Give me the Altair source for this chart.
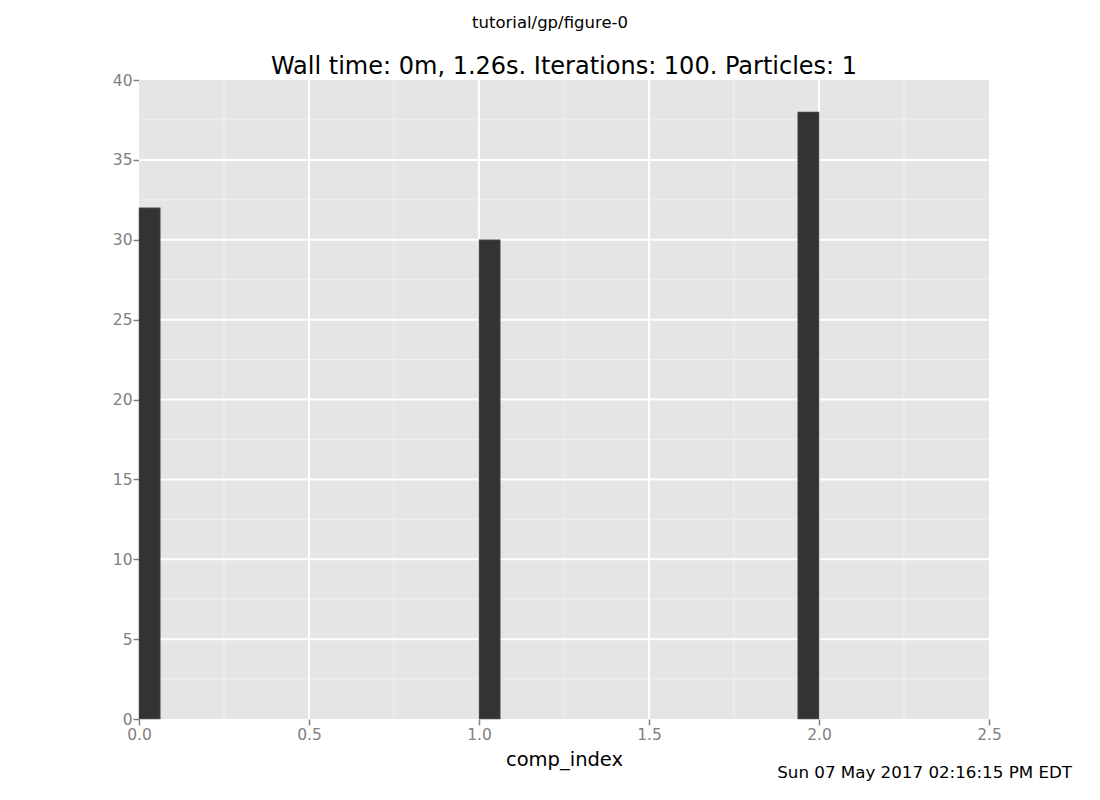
import altair as alt
import pandas as pd

# histogram bins (comp_index) and counts
bin_start = [0.0, 1.0, 1.9375]
bin_end = [0.0625, 1.0625, 2.0]
counts = [32, 30, 38]

x_major = [0.5, 1.0, 1.5, 2.0]
x_minor = [0.25, 0.75, 1.25, 1.75, 2.25]
y_major = [5, 10, 15, 20, 25, 30, 35]
y_minor = [2.5, 7.5, 12.5, 17.5, 22.5, 27.5, 32.5, 37.5]
x_ticks = [0, 0.5, 1.0, 1.5, 2.0, 2.5]
y_ticks = [0, 5, 10, 15, 20, 25, 30, 35, 40]

FONT = "DejaVu Sans"
W, H = 850, 639

bars = pd.DataFrame({"start": bin_start, "end": bin_end, "count": counts})

xs = alt.Scale(domain=[0, 2.5], nice=False, zero=False)
ys = alt.Scale(domain=[0, 40], nice=False)

axis_common = dict(
    grid=False, domain=False, labelFont=FONT, labelFontSize=15.5, labelFlush=False,
    labelColor="#808080", tickColor="#808080", tickSize=6, tickWidth=1.5,
)
XAX = alt.Axis(title="comp_index", values=x_ticks, format=".1f",
               titleFont=FONT, titleFontSize=19.5, titleFontWeight="normal",
               titleColor="black", titlePadding=8, labelPadding=2, **axis_common)
YAX = alt.Axis(title=None, values=y_ticks, labelPadding=1, **axis_common)

bg = alt.Chart(pd.DataFrame({"a": [0]})).mark_rect(color="#E5E5E5").encode(
    x=alt.value(0), x2=alt.value(W), y=alt.value(0), y2=alt.value(H)
)

gx_minor = alt.Chart(pd.DataFrame({"v": x_minor})).mark_rule(color="#F0F0F0", strokeWidth=1).encode(
    x=alt.X("v:Q", scale=xs, axis=XAX)
)
gy_minor = alt.Chart(pd.DataFrame({"v": y_minor})).mark_rule(color="#F0F0F0", strokeWidth=1).encode(
    y=alt.Y("v:Q", scale=ys, axis=YAX)
)
gx_major = alt.Chart(pd.DataFrame({"v": x_major})).mark_rule(color="white", strokeWidth=2).encode(
    x=alt.X("v:Q", scale=xs, axis=XAX)
)
gy_major = alt.Chart(pd.DataFrame({"v": y_major})).mark_rule(color="white", strokeWidth=2).encode(
    y=alt.Y("v:Q", scale=ys, axis=YAX)
)

bar_layer = alt.Chart(bars).mark_rect(color="#333333", stroke="#666666", strokeWidth=0.6).encode(
    x=alt.X("start:Q", scale=xs, axis=XAX),
    x2="end:Q",
    y=alt.Y("count:Q", scale=ys, axis=YAX),
    y2=alt.datum(0),
)

t = pd.DataFrame({"a": [0]})
top_text = alt.Chart(t).mark_text(font=FONT, fontSize=16.5, color="black", align="center",
                                  baseline="alphabetic").encode(
    x=alt.value(W / 2 - 14), y=alt.value(-52), text=alt.value("tutorial/gp/figure-0"))
main_title = alt.Chart(t).mark_text(font=FONT, fontSize=24, color="black", align="center",
                                    baseline="alphabetic").encode(
    x=alt.value(W / 2), y=alt.value(-6),
    text=alt.value("Wall time: 0m, 1.26s. Iterations: 100. Particles: 1"))
footer = alt.Chart(t).mark_text(font=FONT, fontSize=16.7, color="black", align="right",
                                baseline="alphabetic").encode(
    x=alt.value(933), y=alt.value(698), text=alt.value("Sun 07 May 2017 02:16:15 PM EDT"))

chart = alt.layer(bg, gx_minor, gy_minor, gx_major, gy_major, bar_layer,
                  top_text, main_title, footer).properties(
    width=W, height=H,
    autosize=alt.AutoSizeParams(type="none"),
    padding={"left": 139, "top": 80, "right": 111, "bottom": 81},
    background="white",
).configure_view(stroke=None)

chart.save("out.html", embed_options={"renderer": "svg", "actions": False})
